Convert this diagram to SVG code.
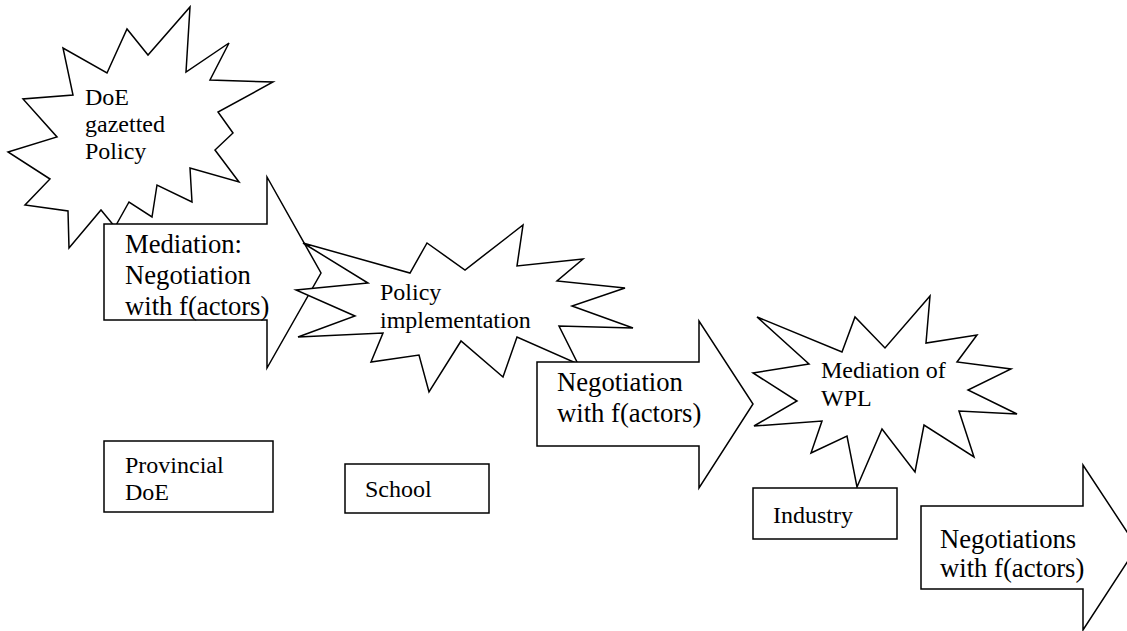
<svg xmlns="http://www.w3.org/2000/svg" width="1127" height="631" viewBox="0 0 1127 631">
  <rect width="1127" height="631" fill="#ffffff"/>

  <!-- Explosion: DoE gazetted policy -->
  <g id="doe-policy">
    <polygon fill="#ffffff" stroke="#000000" stroke-width="1.5" points="190,7 186,72 229,43 210,80 273,82 218,112 233,133 215,150 239,182 190,168 192,202 157,185 152,217 129,202 115,227 101,210 69,248 68,211 25,205 50,179 8,152 57,137 23,99 73,95 63,48 107,73 127,29 148,55"/>
    <text font-family="Liberation Serif" font-size="24" fill="#000000"><tspan x="85" y="105">DoE</tspan><tspan x="85" y="132">gazetted</tspan><tspan x="85" y="159">Policy</tspan></text>
  </g>

  <!-- Block arrow: mediation -->
  <g id="mediation-arrow">
    <polygon fill="#ffffff" stroke="#000000" stroke-width="1.5" points="104,224 267,224 267,177 321,273 267,368 267,320 104,320"/>
    <text font-family="Liberation Serif" font-size="26.67" fill="#000000"><tspan x="125" y="253">Mediation:</tspan><tspan x="125" y="284">Negotiation</tspan><tspan x="125" y="315">with f(actors)</tspan></text>
  </g>

  <!-- Explosion: policy implementation -->
  <g id="policy-implementation">
    <polygon fill="#ffffff" stroke="#000000" stroke-width="1.5" points="303,243 410,273 427,243 465,270 523,225 517,266 583,259 557,281 625,288 572,306 633,328 559,326 578,364 517,337 503,377 461,341 429,392 419,355 371,362 383,333 298,337 355,316 296,290 368,283"/>
    <text font-family="Liberation Serif" font-size="24" fill="#000000"><tspan x="380" y="300">Policy</tspan><tspan x="380" y="328">implementation</tspan></text>
  </g>

  <!-- Block arrow: negotiation -->
  <g id="negotiation-arrow">
    <polygon fill="#ffffff" stroke="#000000" stroke-width="1.5" points="537,362 699,362 699,321 753,404 699,488 699,446 537,446"/>
    <text font-family="Liberation Serif" font-size="26.67" fill="#000000"><tspan x="557" y="391">Negotiation</tspan><tspan x="557" y="422">with f(actors)</tspan></text>
  </g>

  <!-- Explosion: mediation of WPL -->
  <g id="mediation-wpl">
    <polygon fill="#ffffff" stroke="#000000" stroke-width="1.5" points="757,317 842,352 855,317 885,348 930,296 926,343 977,335 957,362 1011,369 968,390 1017,414 959,411 974,457 924,425 915,472 882,429 857,487 847,436 811,453 822,421 754,426 797,401 753,373 809,364"/>
    <text font-family="Liberation Serif" font-size="24" fill="#000000"><tspan x="821" y="378">Mediation of</tspan><tspan x="821" y="406">WPL</tspan></text>
  </g>

  <!-- Actor boxes -->
  <g id="provincial-doe">
    <rect fill="#ffffff" stroke="#000000" stroke-width="1.5" x="104" y="441" width="169" height="71"/>
    <text font-family="Liberation Serif" font-size="24" fill="#000000"><tspan x="125" y="473">Provincial</tspan><tspan x="125" y="500">DoE</tspan></text>
  </g>
  <g id="school">
    <rect fill="#ffffff" stroke="#000000" stroke-width="1.5" x="345" y="464" width="144" height="49"/>
    <text font-family="Liberation Serif" font-size="24" fill="#000000" x="365" y="497">School</text>
  </g>
  <g id="industry">
    <rect fill="#ffffff" stroke="#000000" stroke-width="1.5" x="753" y="488" width="144" height="51"/>
    <text font-family="Liberation Serif" font-size="24" fill="#000000" x="773" y="523">Industry</text>
  </g>

  <!-- Block arrow: negotiations -->
  <g id="negotiations-arrow">
    <polygon fill="#ffffff" stroke="#000000" stroke-width="1.5" points="921,506 1083,506 1083,465 1137,547 1083,630 1083,589 921,589"/>
    <text font-family="Liberation Serif" font-size="26.67" fill="#000000"><tspan x="940" y="548">Negotiations</tspan><tspan x="940" y="577">with f(actors)</tspan></text>
  </g>

  <!-- No connectors are drawn between the shapes -->
  <g id="connectors"/>
</svg>
